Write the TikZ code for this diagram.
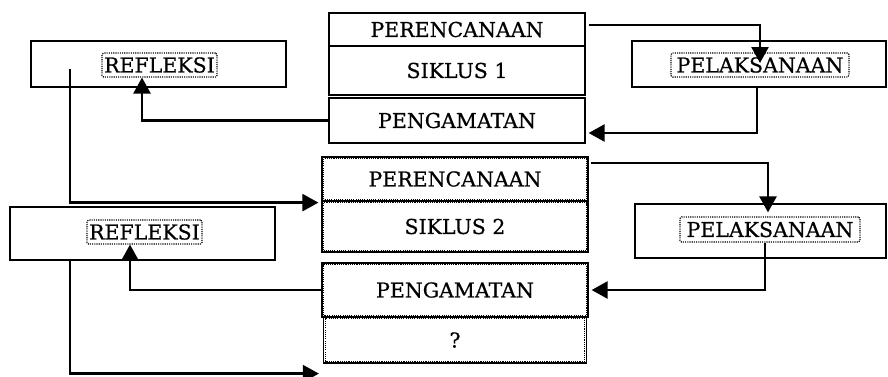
\documentclass[tikz,border=0pt]{standalone}
\usepackage{fontspec}
\setmainfont{DejaVu Serif}
\newfontfamily\diafont[FakeBold=0.6]{DejaVu Serif}
\usetikzlibrary{arrows.meta}
\begin{document}
\begin{tikzpicture}[x=1pt,y=-1pt,
  txt/.style={font=\diafont\fontsize{20.5}{24}\selectfont},
  box/.style={draw, line width=1.2pt, inner sep=0pt, txt},
  dbox/.style={box, line width=1.2pt},
  tbox/.style={draw, line width=1.1pt, dash pattern=on 1.1pt off 1.1pt, rounded corners=1.5pt, inner sep=0pt, txt},
  conn/.style={line width=2.4pt, -{Triangle[length=16pt,width=17pt]}},
]
\useasboundingbox (0,0) rectangle (888,376);
% cycle 1
\node[box, minimum width=256pt, minimum height=33pt] (per1) at (457,29.5) {PERENCANAAN};
\node[box, minimum width=256pt, minimum height=49pt] (sik1) at (457,70.5) {SIKLUS 1};
\node[box, minimum width=256pt, minimum height=45pt] (pen1) at (457,120.5) {PENGAMATAN};
\node[box, minimum width=254pt, minimum height=46pt] (pel1) at (759,64) {};
\node[tbox, minimum width=178pt, minimum height=24pt] (pel1t) at (760,65) {PELAKSANAAN};
\node[box, minimum width=255pt, minimum height=46pt] (ref1) at (158.5,64) {};
\node[tbox, minimum width=115pt, minimum height=24pt] (ref1t) at (159.5,65) {REFLEKSI};
% cycle 2
\node[dbox, minimum width=266pt, minimum height=44pt] (per2) at (455,179) {PERENCANAAN};
\node[dbox, minimum width=266pt, minimum height=51pt] (sik2) at (455,226.5) {SIKLUS 2};
\node[dbox, minimum width=266pt, minimum height=54pt] (pen2) at (455,290) {PENGAMATAN};
\node[dbox, minimum width=263pt, minimum height=46pt] (q2) at (455,340) {?};
\foreach \n in {per2,sik2,pen2,q2}{
  \draw[line width=1.1pt, dash pattern=on 1.1pt off 1.1pt] ([shift={(2.2pt,2.2pt)}]\n.south west) rectangle ([shift={(-2.2pt,-2.2pt)}]\n.north east);
}
\node[box, minimum width=251pt, minimum height=54pt] (pel2) at (760.5,231) {};
\node[tbox, minimum width=180pt, minimum height=25pt] (pel2t) at (770,229.5) {PELAKSANAAN};
\node[box, minimum width=265pt, minimum height=53pt] (ref2) at (142.5,233.5) {};
\node[tbox, minimum width=115pt, minimum height=24pt] (ref2t) at (144.5,232) {REFLEKSI};
% connectors cycle 1
\draw[conn] ([xshift=3pt,yshift=4.5pt]per1.east) -| ([yshift=2pt]pel1t.center);
\draw[conn] ([xshift=-2pt]pel1.south) |- ([xshift=3pt,yshift=-12.5pt]pen1.east);
\draw[conn] (pen1.west) -| ([xshift=-17.5pt]ref1t.south);
\draw[conn] ([xshift=-88.5pt,yshift=-5pt]ref1.center) |- ([xshift=-3pt,yshift=-1pt]per2.south west);
% connectors cycle 2
\draw[conn] ([xshift=2pt,yshift=16pt]per2.east) -| ([xshift=7.5pt,yshift=-9pt]pel2.north);
\draw[conn] ([xshift=-5pt]pel2t.south) |- ([xshift=3pt]pen2.east);
\draw[conn] (pen2.west) -| ([xshift=-14.5pt]ref2t.south);
\draw[conn] ([xshift=-72.5pt]ref2.south) |- ([xshift=-4pt,yshift=-10pt]q2.south west);
\end{tikzpicture}
\end{document}
